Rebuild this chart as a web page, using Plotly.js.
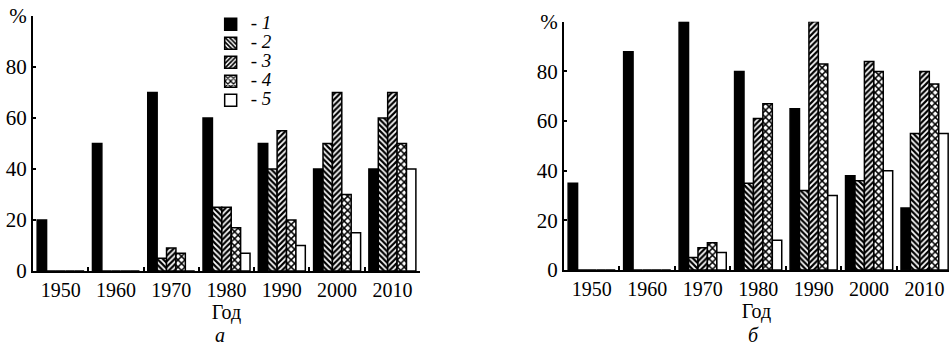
<!DOCTYPE html>
<html>
<head>
<meta charset="utf-8">
<script src="https://cdn.plot.ly/plotly-3.0.1.min.js"></script>
<style>html,body{margin:0;padding:0;background:#fff;overflow:hidden}#chart{width:949px;height:347px}</style>
</head>
<body>
<div id="chart"></div>
<script>
var years = ['1950', '1960', '1970', '1980', '1990', '2000', '2010'];
var seriesNames = ['1', '2', '3', '4', '5'];
var yTickVals = [0, 20, 40, 60, 80, 100];
var yTickText = ['0', '20', '40', '60', '80', '%'];

// Panel "а"
var a1 = [20, 50, 70, 60, 50, 40, 40];
var a2 = [0, 0, 5, 25, 40, 50, 60];
var a3 = [0, 0, 9, 25, 55, 70, 70];
var a4 = [0, 0, 7, 17, 20, 30, 50];
var a5 = [0, 0, 0, 7, 10, 15, 40];

// Panel "б"
var b1 = [35, 88, 100, 80, 65, 38, 25];
var b2 = [0, 0, 5, 35, 32, 36, 55];
var b3 = [0, 0, 9, 61, 100, 84, 80];
var b4 = [0, 0, 11, 67, 83, 80, 75];
var b5 = [0, 0, 7, 12, 30, 40, 55];

var styles = [
  {color: '#000000', pattern: {shape: ''}},
  {color: '#ffffff', pattern: {shape: '\\', fgcolor: '#000', bgcolor: '#fff', size: 4, solidity: 0.55}},
  {color: '#ffffff', pattern: {shape: '/', fgcolor: '#000', bgcolor: '#fff', size: 4, solidity: 0.55}},
  {color: '#ffffff', pattern: {shape: 'x', fgcolor: '#000', bgcolor: '#fff', size: 5, solidity: 0.5}},
  {color: '#ffffff', pattern: {shape: ''}}
];

function mk(vals, i, xa, ya, show) {
  return {
    type: 'bar', x: years, y: vals, xaxis: xa, yaxis: ya,
    name: '<span style="font-size:19px">- <i>' + seriesNames[i] + '</i></span>',
    showlegend: show, legendgroup: 's' + i,
    marker: {color: styles[i].color, pattern: styles[i].pattern, line: {color: '#000', width: 1.5}},
    hoverinfo: 'x+y'
  };
}

var A = [a1, a2, a3, a4, a5];
var B = [b1, b2, b3, b4, b5];
var data = [];
A.forEach(function (v, i) { data.push(mk(v, i, 'x', 'y', true)); });
B.forEach(function (v, i) { data.push(mk(v, i, 'x2', 'y2', false)); });

var fontFam = 'Liberation Serif, Times New Roman, serif';
function xax(domain, range, anchor) {
  return {
    domain: domain, range: range, type: 'category', anchor: anchor,
    showline: true, linewidth: 2, linecolor: '#000', mirror: false,
    ticks: 'inside', tickson: 'boundaries', ticklen: 4, tickwidth: 2, tickcolor: '#000',
    showgrid: false, zeroline: false,
    tickfont: {family: fontFam, size: 20, color: '#000'},
    title: {text: 'Год', font: {family: fontFam, size: 20, color: '#000'}, standoff: 0}
  };
}
function yax(domain, anchor) {
  return {
    domain: domain, range: [0, 100], anchor: anchor,
    showline: true, linewidth: 2, linecolor: '#000',
    ticks: 'inside', ticklen: 3, tickwidth: 2, tickcolor: '#000',
    tickvals: yTickVals, ticktext: yTickText,
    showgrid: false, zeroline: false,
    tickfont: {family: fontFam, size: 21, color: '#000'}
  };
}

var layout = {
  width: 949, height: 347,
  margin: {l: 0, r: 0, t: 0, b: 0},
  paper_bgcolor: '#fff', plot_bgcolor: '#fff',
  barmode: 'group', bargap: 0.15, bargroupgap: 0,
  font: {family: fontFam, size: 18, color: '#000'},
  xaxis: xax([0.0348, 0.4426], [-0.5, 6.5], 'y'),
  yaxis: yax([0.219, 0.954], 'x'),
  xaxis2: xax([0.5943, 1], [-0.5, 6.44], 'y2'),
  yaxis2: yax([0.222, 0.937], 'x2'),
  showlegend: true,
  legend: {
    x: 0.222, y: 0.972, xanchor: 'left', yanchor: 'top',
    bgcolor: 'rgba(0,0,0,0)', borderwidth: 0,
    font: {family: fontFam, size: 11, color: '#000'},
    tracegroupgap: 0, itemwidth: 30
  },
  annotations: [
    {text: '<i>а</i>', xref: 'paper', yref: 'paper', x: 0.2318, y: 0, xanchor: 'center', yanchor: 'bottom', borderpad: 0, showarrow: false, font: {family: fontFam, size: 20, color: '#000'}},
    {text: '<i>б</i>', xref: 'paper', yref: 'paper', x: 0.7935, y: 0, xanchor: 'center', yanchor: 'bottom', borderpad: 0, showarrow: false, font: {family: fontFam, size: 20, color: '#000'}}
  ]
};

Plotly.newPlot('chart', data, layout, {staticPlot: true, displayModeBar: false});
</script>
</body>
</html>
